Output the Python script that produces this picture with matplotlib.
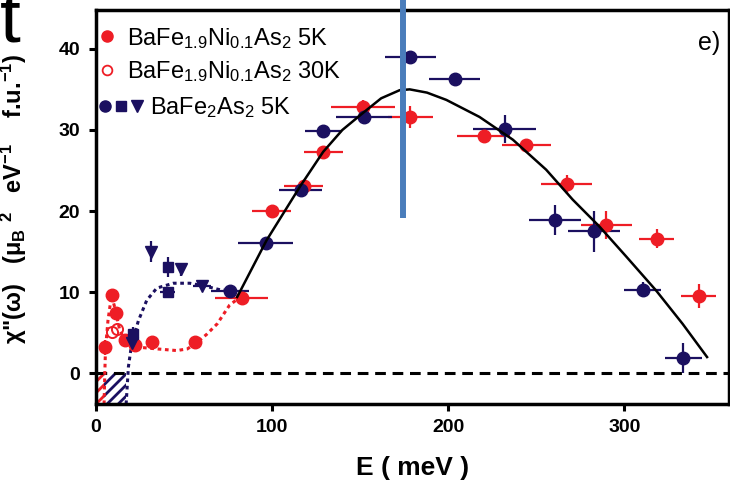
import matplotlib.pyplot as plt
from matplotlib.patches import Rectangle
from matplotlib.legend_handler import HandlerTuple
from matplotlib.lines import Line2D

plt.rcParams['font.family'] = ['Liberation Sans', 'DejaVu Sans']
plt.rcParams['mathtext.fontset'] = 'custom'
plt.rcParams['mathtext.rm'] = 'Liberation Sans'
plt.rcParams['mathtext.bf'] = 'Liberation Sans:bold'
plt.rcParams['mathtext.default'] = 'regular'
plt.rcParams['hatch.linewidth'] = 2.0

RED = '#ee1d25'
NAVY = '#1b1060'

# BaFe1.9Ni0.1As2, 5 K
ni5_E = [5.4, 9.2, 11.4, 16.7, 22.4, 31.8, 56.4, 82.8, 99.8, 118.1, 129.1, 151.7,
         178.6, 220.1, 244.3, 267.3, 289.6, 318.3, 342.1]
ni5_chi = [3.2, 9.6, 7.4, 4.1, 3.5, 3.9, 3.9, 9.3, 20.0, 23.1, 27.3, 32.8,
           31.6, 29.3, 28.1, 23.3, 18.3, 16.6, 9.5]
ni5_dE = [0, 0, 0, 0, 0, 0, 0, 15, 11, 11, 11, 18,
          13, 15, 14, 14.5, 14.5, 10, 10]
ni5_dchi = [0.9, 0.6, 0.6, 0.5, 0.5, 0.5, 0.5, 0.5, 0.5, 0.6, 0.5, 0.9,
            1.4, 0.5, 0.7, 1.2, 1.7, 1.2, 1.5]

# BaFe1.9Ni0.1As2, 30 K
ni30_E = [9.5, 12.0]
ni30_chi = [5.1, 5.5]

# BaFe2As2, 5 K (circles, squares, triangles)
ba_E = [76.2, 96.4, 116.3, 129.1, 152.1, 178.6, 203.7, 232.0, 260.7, 282.6, 310.4, 333.4]
ba_chi = [10.2, 16.1, 22.6, 29.9, 31.6, 39.0, 36.3, 30.1, 18.9, 17.5, 10.3, 1.9]
ba_dE = [11, 15.5, 12, 10.5, 16, 14.7, 14.4, 17.7, 14.6, 14.7, 10.6, 10.4]
ba_dchi = [0.5, 0.5, 0.5, 0.5, 0.6, 0.6, 0.6, 1.7, 1.85, 2.5, 0.9, 1.85]

sq_E = [21.1, 40.9, 40.9]
sq_chi = [4.9, 13.1, 10.0]
sq_dE = [0, 0, 4.4]
sq_dchi = [0.8, 1.2, 0.3]

tri_E = [20.5, 31.4, 48.3, 60.2]
tri_chi = [3.7, 15.0, 12.8, 10.7]
tri_dE = [0, 0, 0, 5]
tri_dchi = [0.6, 1.3, 0.8, 0.3]

# fitted curve through the high-energy data
fit_E = [80.3, 97.0, 115.9, 129.1, 140.0, 151.7, 162.0, 172.5, 178.2, 188.0, 199.0, 217.8,
         236.7, 255.6, 270.7, 285.8, 301.0, 318.0, 333.0, 346.9]
fit_chi = [9.4, 16.4, 23.0, 27.3, 30.0, 32.1, 33.9, 34.9, 35.0, 34.6, 33.7, 31.6,
           28.8, 25.1, 21.4, 18.1, 14.4, 10.2, 6.1, 2.0]

# guides to the eye at low energy
ni_guide_E = [4.8, 5.2, 5.6, 7.0, 9.0, 11.0, 13.5, 16.0, 20.0, 25.0, 35.0, 46.0,
              52.0, 57.0, 63.0, 69.0, 76.0, 82.0]
ni_guide_chi = [-3.8, 0.0, 3.0, 6.5, 9.6, 8.0, 5.5, 4.2, 3.6, 3.2, 3.0, 2.8,
                3.0, 3.7, 4.8, 6.1, 8.4, 9.4]
ba_guide_E = [17.3, 18.6, 20.5, 24.3, 29.0, 34.7, 44.1, 53.5, 63.0, 70.5, 76.0]
ba_guide_chi = [-3.8, 0.8, 3.7, 6.5, 9.0, 10.5, 11.1, 11.1, 10.7, 10.3, 10.2]

fig = plt.figure(figsize=(7.3, 4.94), dpi=100)
ax = fig.add_axes([0.131, 0.182, 0.868, 0.798])

ax.set_xlim(0, 359.5)
ax.set_ylim(-3.8, 44.8)

# gap regions below zero
ax.add_patch(Rectangle((0, -3.8), 17.5, 3.8, fill=False, hatch='///',
                       edgecolor=NAVY, linewidth=0, zorder=1))
ax.add_patch(Rectangle((0, -3.8), 5.0, 3.8, facecolor='white', hatch='///',
                       edgecolor=RED, linewidth=0, zorder=1))

ax.axhline(0, color='black', lw=2.2, ls=(0, (3.5, 2.2)), zorder=2)

ax.plot(ni_guide_E, ni_guide_chi, color=RED, lw=2.2, ls=(0, (1.2, 1.2)), zorder=2)
ax.plot(ba_guide_E, ba_guide_chi, color=NAVY, lw=2.2, ls=(0, (1.2, 1.2)), zorder=2)
ax.plot(fit_E, fit_chi, color='black', lw=1.8, zorder=5)

eb = dict(ls='none', elinewidth=1.6, capsize=0, zorder=4)
ax.errorbar(ni5_E, ni5_chi, xerr=ni5_dE, yerr=ni5_dchi, fmt='o', color=RED,
            ms=9, **eb)
ax.plot(ni30_E, ni30_chi, 'o', mfc='none', mec=RED, mew=1.4, ms=8, zorder=4)
ax.errorbar(ba_E, ba_chi, xerr=ba_dE, yerr=ba_dchi, fmt='o', color=NAVY,
            ms=9, **eb)
ax.errorbar(sq_E, sq_chi, xerr=sq_dE, yerr=sq_dchi, fmt='s', color=NAVY,
            ms=7.5, **eb)
ax.errorbar(tri_E, tri_chi, xerr=tri_dE, yerr=tri_dchi, fmt='v', color=NAVY,
            ms=9, **eb)

# marker of the peak position
ax.plot([174.2, 174.2], [19.1, 47.0], color='#4a7dbb', lw=4.3,
        solid_capstyle='butt', clip_on=False, zorder=6)

for s in ax.spines.values():
    s.set_linewidth(2.5)
ax.set_xticks([0, 100, 200, 300])
ax.set_yticks([0, 10, 20, 30, 40])
ax.tick_params(axis='both', direction='out', length=5, width=2.2,
               labelsize=14, pad=6)
for lab in ax.get_xticklabels() + ax.get_yticklabels():
    lab.set_fontweight('bold')

ax.set_xlabel('E ( meV )', fontsize=19, fontweight='bold', labelpad=14)
ax.set_ylabel(r'$\mathbf{\chi}$"($\mathbf{\omega}$)   ($\mathbf{\mu_{B}}$ $\mathbf{^{2}}$   eV$\mathbf{^{-1}}$    f.u.$\mathbf{^{-1}}$)',
              fontsize=17, fontweight='bold')
ax.yaxis.set_label_coords(-0.105, 0.52)

ax.text(0.985, 0.915, 'e)', transform=ax.transAxes, ha='right', va='center',
        fontsize=18)
fig.text(0.0, 0.915, 't', fontsize=54, ha='left', va='baseline')

h1 = Line2D([], [], ls='none', marker='o', color=RED, ms=8)
h2 = Line2D([], [], ls='none', marker='o', mfc='none', mec=RED, mew=1.3, ms=7)
h3 = (Line2D([], [], ls='none', marker='o', color=NAVY, ms=8),
      Line2D([], [], ls='none', marker='s', color=NAVY, ms=7),
      Line2D([], [], ls='none', marker='v', color=NAVY, ms=9))
labels = ['BaFe$_{1.9}$Ni$_{0.1}$As$_{2}$ 5K',
          'BaFe$_{1.9}$Ni$_{0.1}$As$_{2}$ 30K',
          'BaFe$_{2}$As$_{2}$ 5K']
leg1 = ax.legend([h1, h2], labels[:2], loc='upper left', frameon=False,
                 fontsize=17, bbox_to_anchor=(-0.008, 0.978),
                 handlelength=0.8, handletextpad=0.45, labelspacing=0.35,
                 borderaxespad=0.0, borderpad=0.3)
ax.add_artist(leg1)
ax.legend([h3], labels[2:], loc='upper left', frameon=False, fontsize=17,
          bbox_to_anchor=(-0.005, 0.801),
          handler_map={tuple: HandlerTuple(ndivide=None, pad=0.2)},
          handlelength=1.8, handletextpad=0.35,
          borderaxespad=0.0, borderpad=0.3)

fig.savefig('out.png', dpi=100)
